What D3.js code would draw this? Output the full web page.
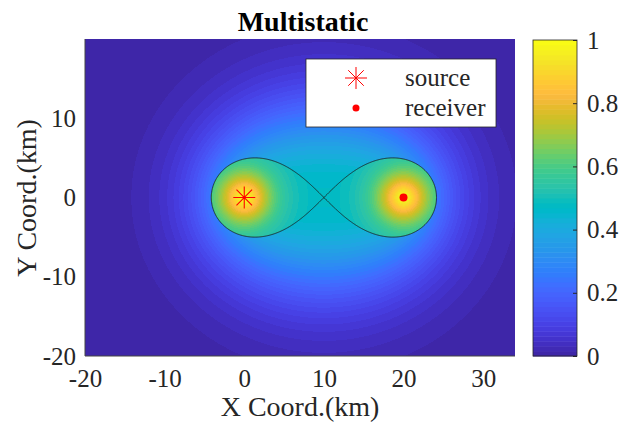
<!DOCTYPE html>
<html>
<head>
<meta charset="utf-8">
<script src="https://cdn.jsdelivr.net/npm/d3@7"></script>
<style>
  body { margin: 0; background: #fff; }
  svg text { font-family: "Liberation Serif", "Times New Roman", serif; fill: #262626; }
</style>
</head>
<body>
<svg id="chart" width="620" height="422"></svg>
<script>
// sensor positions (km)
const source = [0, 0];
const receiver = [20, 0];
// the black curve is the oval r1*r2 = ovalLevel (km^2)
const ovalLevel = 100;

// axis limits and ticks
const xDomain = [-20, 34];
const yDomain = [-20, 20];
const xTicks = [-20, -10, 0, 10, 20, 30];
const yTicks = [-20, -10, 0, 10];
const cbTicks = [0, 0.2, 0.4, 0.6, 0.8, 1];

// field: outside the oval it falls with range sum,
// inside it rises towards the nearest sensor
const outPeak = 0.47, outScale = 11.6, outPow = 1.37;
const inBase = 0.47, inAmp = 0.53, inScale = 3.25, inPow = 1.42;

// MATLAB parula, 64 colours
const parula = [
  [0.2422,0.1504,0.6603],[0.2504,0.1650,0.7076],[0.2578,0.1818,0.7511],[0.2647,0.1978,0.7952],
  [0.2706,0.2147,0.8364],[0.2751,0.2342,0.8710],[0.2783,0.2559,0.8991],[0.2803,0.2782,0.9221],
  [0.2813,0.3006,0.9414],[0.2810,0.3228,0.9579],[0.2795,0.3447,0.9717],[0.2760,0.3667,0.9829],
  [0.2699,0.3892,0.9906],[0.2602,0.4123,0.9952],[0.2440,0.4358,0.9988],[0.2206,0.4603,0.9973],
  [0.1963,0.4847,0.9892],[0.1834,0.5074,0.9798],[0.1786,0.5289,0.9682],[0.1764,0.5499,0.9520],
  [0.1687,0.5703,0.9359],[0.1540,0.5902,0.9218],[0.1460,0.6091,0.9079],[0.1380,0.6276,0.8973],
  [0.1248,0.6459,0.8883],[0.1113,0.6635,0.8763],[0.0952,0.6798,0.8598],[0.0689,0.6948,0.8394],
  [0.0297,0.7082,0.8163],[0.0036,0.7203,0.7917],[0.0067,0.7312,0.7660],[0.0433,0.7411,0.7394],
  [0.0964,0.7500,0.7120],[0.1408,0.7584,0.6842],[0.1717,0.7670,0.6554],[0.1938,0.7758,0.6251],
  [0.2161,0.7843,0.5923],[0.2470,0.7918,0.5567],[0.2906,0.7973,0.5188],[0.3406,0.8008,0.4789],
  [0.3909,0.8029,0.4354],[0.4456,0.8024,0.3909],[0.5044,0.7993,0.3480],[0.5616,0.7942,0.3045],
  [0.6174,0.7876,0.2612],[0.6720,0.7793,0.2227],[0.7242,0.7698,0.1910],[0.7738,0.7598,0.1646],
  [0.8203,0.7498,0.1535],[0.8634,0.7406,0.1596],[0.9035,0.7330,0.1774],[0.9393,0.7288,0.2100],
  [0.9728,0.7298,0.2394],[0.9956,0.7434,0.2371],[0.9970,0.7659,0.2199],[0.9952,0.7893,0.2028],
  [0.9892,0.8136,0.1885],[0.9786,0.8386,0.1766],[0.9676,0.8639,0.1643],[0.9610,0.8890,0.1537],
  [0.9597,0.9135,0.1423],[0.9628,0.9373,0.1265],[0.9691,0.9606,0.1064],[0.9769,0.9839,0.0805]
].map(c => d3.rgb(c[0] * 255, c[1] * 255, c[2] * 255));

const svg = d3.select("#chart");
const margin = { left: 85, right: 515, top: 39, bottom: 356 };
const pw = margin.right - margin.left;
const ph = margin.bottom - margin.top;

const x = d3.scaleLinear().domain(xDomain).range([margin.left, margin.right]);
const y = d3.scaleLinear().domain(yDomain).range([margin.bottom, margin.top]);
const color = d3.scaleQuantize().domain([0, 1]).range(parula);

function dist(p, q) {
  return Math.hypot(p[0] - q[0], p[1] - q[1]);
}

function fieldValue(px, py) {
  const r1 = dist([px, py], source);
  const r2 = dist([px, py], receiver);
  if (r1 * r2 < ovalLevel) {
    const m = Math.min(r1, r2);
    return inBase + inAmp * Math.exp(-Math.pow(m / inScale, inPow));
  }
  const s = r1 + r2 - dist(source, receiver);
  return outPeak * Math.exp(-Math.pow(s / outScale, outPow));
}

// heat map, one canvas pixel per screen pixel
const canvas = document.createElement("canvas");
canvas.width = pw;
canvas.height = ph;
const ctx = canvas.getContext("2d");
const img = ctx.createImageData(pw, ph);
for (let j = 0; j < ph; j++) {
  for (let i = 0; i < pw; i++) {
    const c = color(fieldValue(x.invert(margin.left + i + 0.5), y.invert(margin.top + j + 0.5)));
    const k = (j * pw + i) * 4;
    img.data[k] = c.r;
    img.data[k + 1] = c.g;
    img.data[k + 2] = c.b;
    img.data[k + 3] = 255;
  }
}
ctx.putImageData(img, 0, 0);

svg.append("image")
  .attr("x", margin.left)
  .attr("y", margin.top)
  .attr("width", pw)
  .attr("height", ph)
  .attr("preserveAspectRatio", "none")
  .attr("href", canvas.toDataURL());

// the oval, traced with d3.contours on a grid of -r1*r2
const step = 0.1;
const nx = Math.round((xDomain[1] - xDomain[0]) / step) + 1;
const ny = Math.round((yDomain[1] - yDomain[0]) / step) + 1;
const grid = new Float64Array(nx * ny);
for (let j = 0; j < ny; j++) {
  for (let i = 0; i < nx; i++) {
    const p = [xDomain[0] + i * step, yDomain[0] + j * step];
    grid[j * nx + i] = -dist(p, source) * dist(p, receiver) + 1e-6;
  }
}
const oval = d3.contours().size([nx, ny]).thresholds([-ovalLevel])(grid);
const gridPath = d3.geoPath(d3.geoTransform({
  point(gx, gy) {
    this.stream.point(x(xDomain[0] + (gx - 0.5) * step), y(yDomain[0] + (gy - 0.5) * step));
  }
}));
svg.append("path")
  .attr("d", gridPath(oval[0]))
  .attr("fill", "none")
  .attr("stroke", "#1a1a1a")
  .attr("stroke-width", 0.8);

// markers
function starPath(cx, cy, r) {
  const d = r * Math.SQRT1_2;
  return `M${cx - r},${cy}L${cx + r},${cy}M${cx},${cy - r}L${cx},${cy + r}` +
    `M${cx - d},${cy - d}L${cx + d},${cy + d}M${cx - d},${cy + d}L${cx + d},${cy - d}`;
}
svg.append("path")
  .attr("d", starPath(x(source[0]), y(source[1]), 11))
  .attr("stroke", "#ff0000")
  .attr("stroke-width", 1.1)
  .attr("fill", "none");
svg.append("circle")
  .attr("cx", x(receiver[0]))
  .attr("cy", y(receiver[1]))
  .attr("r", 4)
  .attr("fill", "#ff0000");

// axes frame
svg.append("line").attr("x1", margin.left).attr("x2", margin.left)
  .attr("y1", margin.top).attr("y2", margin.bottom).attr("stroke", "#444").attr("stroke-width", 1);
svg.append("line").attr("x1", margin.left).attr("x2", margin.right)
  .attr("y1", margin.bottom).attr("y2", margin.bottom).attr("stroke", "#444").attr("stroke-width", 1);

const xAxis = svg.append("g")
  .attr("transform", `translate(0,${margin.bottom})`)
  .call(d3.axisBottom(x).tickValues(xTicks).tickSize(0).tickPadding(13).tickFormat(d => String(d)));
xAxis.select(".domain").remove();
xAxis.selectAll("text").style("font-size", "25px").attr("fill", "#262626");

const yAxis = svg.append("g")
  .attr("transform", `translate(${margin.left},0)`)
  .call(d3.axisLeft(y).tickValues(yTicks).tickSize(0).tickPadding(9).tickFormat(d => String(d)));
yAxis.select(".domain").remove();
yAxis.selectAll("text").style("font-size", "25px").attr("fill", "#262626");

svg.append("text")
  .attr("x", 303).attr("y", 31)
  .attr("text-anchor", "middle")
  .style("font-size", "28px").style("font-weight", "bold")
  .style("fill", "#000")
  .text("Multistatic");

svg.append("text")
  .attr("x", 300).attr("y", 416)
  .attr("text-anchor", "middle")
  .style("font-size", "28px")
  .text("X Coord.(km)");

svg.append("text")
  .attr("transform", "translate(36,198) rotate(-90)")
  .attr("text-anchor", "middle")
  .style("font-size", "28px")
  .text("Y Coord.(km)");

// legend
const legend = svg.append("g");
legend.append("rect")
  .attr("x", 306).attr("y", 59).attr("width", 190).attr("height", 68)
  .attr("fill", "#fff").attr("stroke", "#262626").attr("stroke-width", 0.8);
legend.append("path")
  .attr("d", starPath(356, 78, 11))
  .attr("stroke", "#ff0000").attr("stroke-width", 1).attr("fill", "none");
legend.append("circle").attr("cx", 356).attr("cy", 108).attr("r", 3.5).attr("fill", "#ff0000");
legend.append("text").attr("x", 405).attr("y", 86).style("font-size", "25px").text("source");
legend.append("text").attr("x", 405).attr("y", 116).style("font-size", "25px").text("receiver");

// colour bar
const cb = { x: 533, w: 44 };
const cbScale = d3.scaleLinear().domain([0, 1]).range([margin.bottom, margin.top + 1]);
const cbG = svg.append("g");
cbG.selectAll("rect.band")
  .data(d3.range(parula.length))
  .join("rect")
  .attr("class", "band")
  .attr("x", cb.x)
  .attr("width", cb.w)
  .attr("y", i => cbScale((i + 1) / parula.length))
  .attr("height", i => cbScale(i / parula.length) - cbScale((i + 1) / parula.length) + 0.5)
  .attr("fill", (i) => parula[i]);
cbG.append("rect")
  .attr("x", cb.x).attr("y", cbScale(1)).attr("width", cb.w).attr("height", cbScale(0) - cbScale(1))
  .attr("fill", "none").attr("stroke", "#262626").attr("stroke-width", 0.8);

const cbAxis = svg.append("g")
  .attr("transform", `translate(${cb.x + cb.w},0)`)
  .call(d3.axisRight(cbScale).tickValues(cbTicks).tickSizeInner(-4).tickSizeOuter(0)
    .tickPadding(10).tickFormat(d => String(d)));
cbAxis.select(".domain").remove();
cbAxis.selectAll("line").attr("stroke", "#262626");
cbAxis.selectAll("text").style("font-size", "25px").attr("fill", "#262626");
</script>
</body>
</html>
